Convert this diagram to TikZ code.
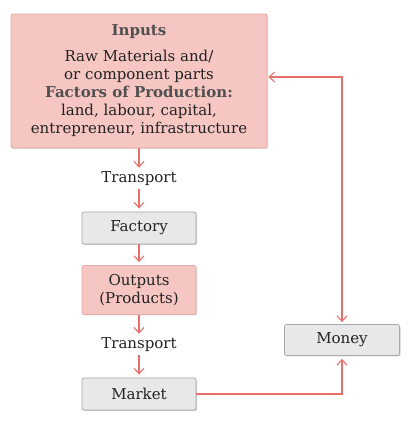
\documentclass[tikz,border=0pt]{standalone}
\usepackage{fontspec}
\setmainfont{DejaVu Serif}
\usetikzlibrary{arrows.meta,positioning,shadows}
\definecolor{arrowred}{HTML}{E8706A}
\definecolor{pinkfill}{HTML}{F6C6C2}
\definecolor{pinkline}{HTML}{E4ABA7}
\definecolor{grayfill}{HTML}{E7E8E9}
\definecolor{grayline}{HTML}{A8A9AB}
\definecolor{txt}{HTML}{222222}
\definecolor{headtxt}{HTML}{505050}
\tikzset{
  x=1pt, y=1pt,
  pinkbox/.style={draw=pinkline, fill=pinkfill, rounded corners=2pt, line width=0.8pt,
    align=center, inner sep=0pt, text=txt,
    drop shadow={shadow xshift=1pt, shadow yshift=-1pt, fill=black!25, opacity=0.6}},
  graybox/.style={draw=grayline, fill=grayfill, rounded corners=2pt, line width=0.8pt,
    align=center, inner sep=0pt, text=txt,
    drop shadow={shadow xshift=1pt, shadow yshift=-1pt, fill=black!30, opacity=0.6}},
  plain/.style={inner sep=2pt, text=txt},
  flow/.style={draw=arrowred, line width=1.1pt, -{Straight Barb[length=5.5pt,width=10pt,line width=1.1pt]}},
  flowboth/.style={draw=arrowred, line width=1.1pt,
    {Straight Barb[length=5.5pt,width=10pt,line width=1.1pt]}-{Straight Barb[length=5.5pt,width=10pt,line width=1.1pt]}},
}
\begin{document}
\begin{tikzpicture}[font=\fontsize{15}{18}\selectfont]
\useasboundingbox (0,0) rectangle (413,421);
\node[pinkbox, minimum width=256, minimum height=134] (inputs) at (139,340)
  {\textcolor{headtxt}{\textbf{Inputs}}\\[8pt]Raw Materials and/\\or component parts\\\textcolor{headtxt}{\textbf{Factors of Production:}}\\land, labour, capital,\\entrepreneur, infrastructure};
\node[plain] (tr1) at (139,242) {Transport};
\node[graybox, minimum width=114, minimum height=32] (factory) at (139,193) {Factory};
\node[pinkbox, minimum width=114, minimum height=49] (outputs) at (139,131) {Outputs\\(Products)};
\node[plain] (tr2) at (139,76) {Transport};
\node[graybox, minimum width=114, minimum height=32] (market) at (139,27) {Market};
\node[graybox, minimum width=115, minimum height=31] (money) at (342,81) {Money};
\coordinate (turn) at (342,344);
\draw[flow] (inputs.south) -- ([yshift=2pt]tr1.north);
\draw[flow] ([yshift=-1pt]tr1.south) -- ([yshift=3pt]factory.north);
\draw[flow] (factory.south) -- ([yshift=3pt]outputs.north);
\draw[flow] (outputs.south) -- ([yshift=2pt]tr2.north);
\draw[flow] ([yshift=-1pt]tr2.south) -- ([yshift=3pt]market.north);
\draw[flow] (market.east) -| ([yshift=-3pt]money.south);
\draw[flowboth] ([xshift=1pt]inputs.east |- turn) -- (turn) -- ([yshift=2pt]money.north);
\end{tikzpicture}
\end{document}
